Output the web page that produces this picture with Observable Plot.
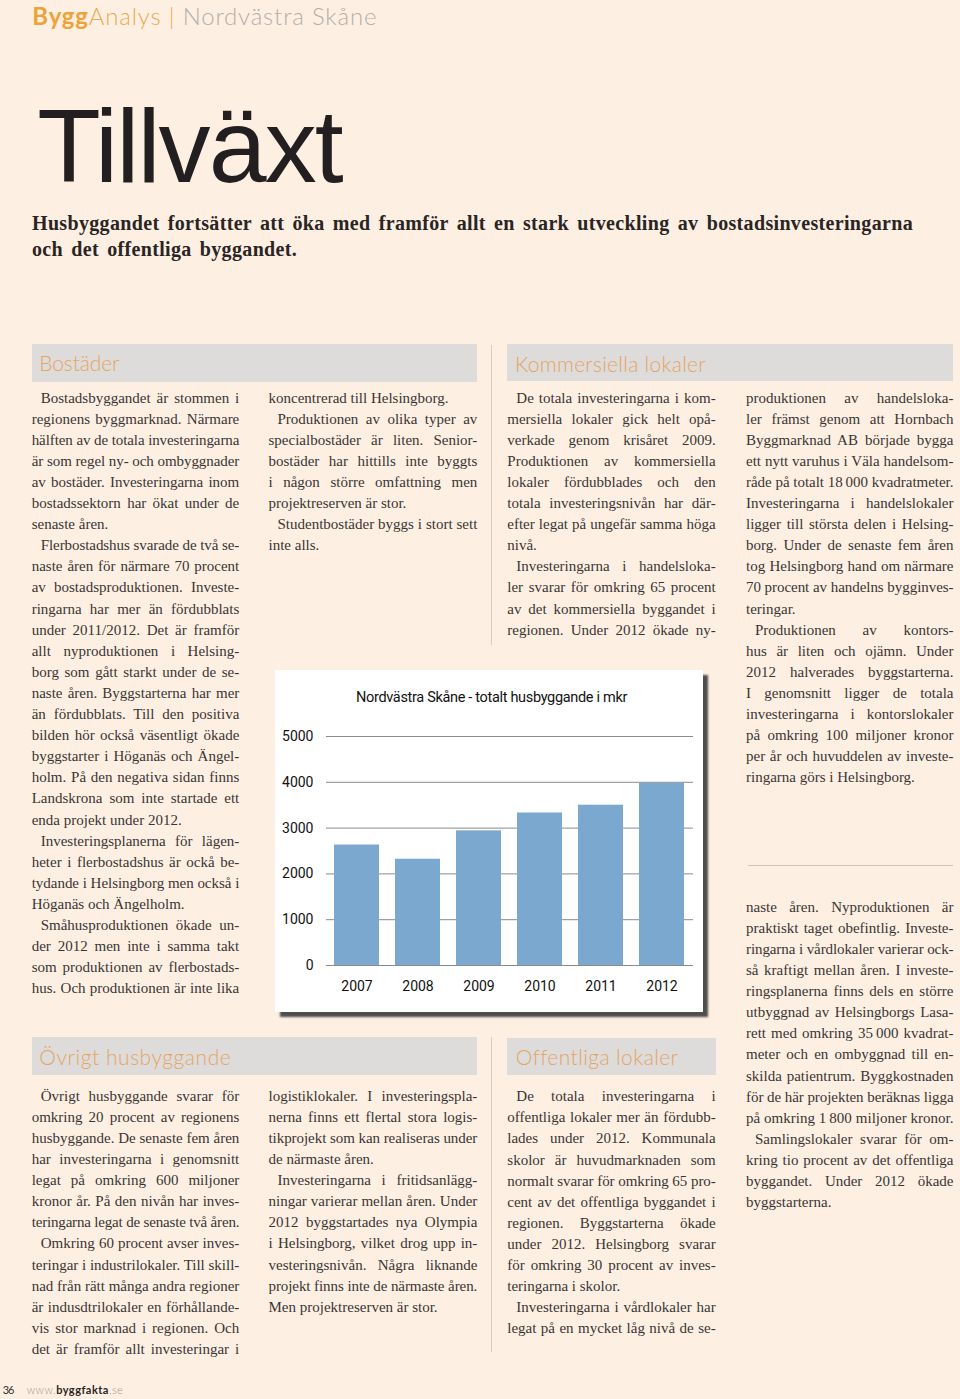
<!DOCTYPE html>
<html><head><meta charset="utf-8">
<script src="https://cdn.jsdelivr.net/npm/d3@7"></script>
<script src="https://cdn.jsdelivr.net/npm/@observablehq/plot@0.6"></script>
<style>
html,body{margin:0;padding:0;}
body{width:960px;height:1399px;background:#fdf0e3;position:relative;overflow:hidden;}
.abs{position:absolute;white-space:nowrap;}
.body{font-family:'Liberation Serif','Times New Roman',serif;font-size:15px;color:#3a3533;line-height:1;}
.head{font-family:Lato,sans-serif;font-weight:300;font-size:21px;color:#e6a463;line-height:1;}
.top{font-family:Lato,sans-serif;font-weight:300;font-size:24px;color:#b5aea8;line-height:1;}
.big{font-family:'Liberation Sans',Arial,sans-serif;font-size:104px;color:#231f20;line-height:1;}
.sub{font-family:'Liberation Serif','Times New Roman',serif;font-weight:bold;font-size:20px;color:#2a2523;line-height:1;}
.ctitle{font-family:Roboto,'Liberation Sans',sans-serif;font-size:14.5px;color:#111;line-height:1;}
.foot{font-family:Lato,sans-serif;font-size:11px;color:#333;line-height:1;}
</style></head><body>
<script>
// ---- chart data ----
const years = ["2007", "2008", "2009", "2010", "2011", "2012"];
const values = [2630, 2320, 2940, 3330, 3500, 3980];
const yTicks = [0, 1000, 2000, 3000, 4000, 5000];
const chartTitle = "Nordvästra Skåne - totalt husbyggande i mkr";

// ---- page text ----
const col1 = [
"\tBostadsbyggandet är stommen i",
"regionens byggmarknad. Närmare",
"hälften av de totala investeringarna",
"är som regel ny- och ombyggnader",
"av bostäder. Investeringarna inom",
"bostadssektorn har ökat under de",
"senaste åren.~",
"\tFlerbostadshus svarade de två se-",
"naste åren för närmare 70 procent",
"av bostadsproduktionen. Investe-",
"ringarna har mer än fördubblats",
"under 2011/2012. Det är framför",
"allt nyproduktionen i Helsing-",
"borg som gått starkt under de se-",
"naste åren. Byggstarterna har mer",
"än fördubblats. Till den positiva",
"bilden hör också väsentligt ökade",
"byggstarter i Höganäs och Ängel-",
"holm. På den negativa sidan finns",
"Landskrona som inte startade ett",
"enda projekt under 2012.~",
"\tInvesteringsplanerna för lägen-",
"heter i flerbostadshus är ockå be-",
"tydande i Helsingborg men också i",
"Höganäs och Ängelholm.~",
"\tSmåhusproduktionen ökade un-",
"der 2012 men inte i samma takt",
"som produktionen av flerbostads-",
"hus. Och produktionen är inte lika"
];
const col2 = [
"koncentrerad till Helsingborg.~",
"\tProduktionen av olika typer av",
"specialbostäder är liten. Senior-",
"bostäder har hittills inte byggts",
"i någon större omfattning men",
"projektreserven är stor.~",
"\tStudentbostäder byggs i stort sett",
"inte alls.~"
];
const col3 = [
"\tDe totala investeringarna i kom-",
"mersiella lokaler gick helt opå-",
"verkade genom krisåret 2009.",
"Produktionen av kommersiella",
"lokaler fördubblades och den",
"totala investeringsnivån har där-",
"efter legat på ungefär samma höga",
"nivå.~",
"\tInvesteringarna i handelsloka-",
"ler svarar för omkring 65 procent",
"av det kommersiella byggandet i",
"regionen. Under 2012 ökade ny-"
];
const col4 = [
"produktionen av handelsloka-",
"ler främst genom att Hornbach",
"Byggmarknad AB började bygga",
"ett nytt varuhus i Väla handelsom-",
"råde på totalt 18\u2009000 kvadratmeter.",
"Investeringarna i handelslokaler",
"ligger till största delen i Helsing-",
"borg. Under de senaste fem åren",
"tog Helsingborg hand om närmare",
"70 procent av handelns bygginves-",
"teringar.~",
"\tProduktionen av kontors-",
"hus är liten och ojämn. Under",
"2012 halverades byggstarterna.",
"I genomsnitt ligger de totala",
"investeringarna i kontorslokaler",
"på omkring 100 miljoner kronor",
"per år och huvuddelen av investe-",
"ringarna görs i Helsingborg.~"
];
const col4b = [
"naste åren. Nyproduktionen är",
"praktiskt taget obefintlig. Investe-",
"ringarna i vårdlokaler varierar ock-",
"så kraftigt mellan åren. I investe-",
"ringsplanerna finns dels en större",
"utbyggnad av Helsingborgs Lasa-",
"rett med omkring 35\u2009000 kvadrat-",
"meter och en ombyggnad till en-",
"skilda patientrum. Byggkostnaden",
"för de här projekten beräknas ligga",
"på omkring 1\u2009800 miljoner kronor.",
"\tSamlingslokaler svarar för om-",
"kring tio procent av det offentliga",
"byggandet. Under 2012 ökade",
"byggstarterna.~"
];
const col5 = [
"\tÖvrigt husbyggande svarar för",
"omkring 20 procent av regionens",
"husbyggande. De senaste fem åren",
"har investeringarna i genomsnitt",
"legat på omkring 600 miljoner",
"kronor år. På den nivån har inves-",
"teringarna legat de senaste två åren.",
"\tOmkring 60 procent avser inves-",
"teringar i industrilokaler. Till skill-",
"nad från rätt många andra regioner",
"är indusdtrilokaler en förhållande-",
"vis stor marknad i regionen. Och",
"det är framför allt investeringar i"
];
const col6 = [
"logistiklokaler. I investeringspla-",
"nerna finns ett flertal stora logis-",
"tikprojekt som kan realiseras under",
"de närmaste åren.~",
"\tInvesteringarna i fritidsanlägg-",
"ningar varierar mellan åren. Under",
"2012 byggstartades nya Olympia",
"i Helsingborg, vilket drog upp in-",
"vesteringsnivån. Några liknande",
"projekt finns inte de närmaste åren.",
"Men projektreserven är stor.~"
];
const col7 = [
"\tDe totala investeringarna i",
"offentliga lokaler mer än fördubb-",
"lades under 2012. Kommunala",
"skolor är huvudmarknaden som",
"normalt svarar för omkring 65 pro-",
"cent av det offentliga byggandet i",
"regionen. Byggstarterna ökade",
"under 2012. Helsingborg svarar",
"för omkring 30 procent av inves-",
"teringarna i skolor.~",
"\tInvesteringarna i vårdlokaler har",
"legat på en mycket låg nivå de se-"
];

// ---- helpers ----
function line(str, x, baseline, cls, opts = {}) {
  const d = document.createElement('div');
  d.className = 'abs ' + cls;
  d.style.left = x + 'px';
  d.style.top = '0px';
  if (opts.html) d.innerHTML = opts.html; else d.textContent = str;
  document.body.appendChild(d);
  const p = document.createElement('span');
  p.style.cssText = 'display:inline-block;width:0;height:0;';
  d.appendChild(p);
  const off = p.getBoundingClientRect().top - d.getBoundingClientRect().top;
  p.remove();
  d.style.top = (baseline - off) + 'px';
  if (opts.width != null) {
    const w = d.getBoundingClientRect().width;
    const slack = opts.width - w;
    const txt = d.textContent;
    const spaces = (txt.match(/ /g) || []).length;
    if (opts.split && spaces > 0) {
      d.style.letterSpacing = (slack * opts.split / txt.length) + 'px';
      d.style.wordSpacing = (slack * (1 - opts.split) / spaces) + 'px';
    } else if (opts.justify && slack > 0 && spaces > 0) d.style.wordSpacing = (slack / spaces) + 'px';
    else if (slack < 0 || opts.fit) d.style.letterSpacing = (slack / txt.length) + 'px';
  }
  if (opts.ls != null) d.style.letterSpacing = opts.ls + 'px';
  if (opts.ws != null) d.style.wordSpacing = opts.ws + 'px';
  return d;
}
function column(lines, x, b0, width, lh = 21.1) {
  lines.forEach((raw, i) => {
    let s = raw, indent = 0, justify = true;
    if (s.startsWith('\t')) { s = s.slice(1); indent = 9; }
    if (s.endsWith('~')) { s = s.slice(0, -1); justify = false; }
    line(s, x + indent, b0 + i * lh, 'body', {width: width - indent, justify});
  });
}
function rect(x, y, w, h, color) {
  const d = document.createElement('div');
  d.style.cssText = `position:absolute;left:${x}px;top:${y}px;width:${w}px;height:${h}px;background:${color};`;
  document.body.appendChild(d);
  return d;
}

// ---- header ----
line('', 32.3, 25, 'top', {html: '<span style="font-weight:700;color:#eea23a">Bygg</span><span style="color:#eea84e">Analys |</span> Nordvästra Skåne', width: 345, fit: true});
line('Tillväxt', 37.3, 181.7, 'big', {width: 304.4, fit: true});
const s1 = line('Husbyggandet fortsätter att öka med framför allt en stark utveckling av bostadsinvesteringarna', 32, 229.7, 'sub', {width: 881, split: 0.5});
line('och det offentliga byggandet.', 32, 255.7, 'sub', {ls: parseFloat(s1.style.letterSpacing) || 0, ws: parseFloat(s1.style.wordSpacing) || 0});

// ---- section bands ----
rect(31.7, 344, 445.6, 37.5, '#dddcdb');
rect(507.3, 344, 446, 37, '#dddcdb');
rect(31.7, 1037.3, 445.6, 37.7, '#dddcdb');
rect(507.3, 1037.7, 208.4, 37.3, '#dddcdb');
line('Bostäder', 39.3, 371, 'head', {width: 80, fit: true});
line('Kommersiella lokaler', 515, 371.5, 'head', {width: 191, fit: true});
line('Övrigt husbyggande', 39.3, 1065, 'head', {width: 192, fit: true});
line('Offentliga lokaler', 515.7, 1064.5, 'head', {width: 162, fit: true});

// separators
rect(490.5, 345, 1.5, 300, '#d6cdc3');
rect(490.8, 1037, 1.5, 315, '#d6cdc3');
rect(748, 864.5, 205, 1.5, '#cbc4bc');

// ---- body text ----
column(col1, 31.7, 402.5, 207.6);
column(col2, 268.5, 402.5, 208.8);
column(col3, 507.3, 402.5, 208.4);
column(col4, 746, 402.5, 207.5);
column(col4b, 746, 911.7, 207.5);
column(col5, 31.7, 1100.7, 207.6);
column(col6, 268.5, 1100.7, 208.8);
column(col7, 507.3, 1101.2, 208.4);

// ---- footer ----
line('36', 2.7, 1394, 'foot', {width: 10.6, fit: true});
line('', 26.7, 1394, 'foot', {html: '<span style="color:#9a9590;font-weight:300">www.</span><span style="font-weight:700;color:#2a2523">byggfakta</span><span style="color:#9a9590;font-weight:300">.se</span>', width: 96.6, fit: true});

// ---- chart ----
const box = document.createElement('div');
box.style.cssText = 'position:absolute;left:275px;top:670px;width:428px;height:342px;background:#fff;box-shadow:5px 5px 2px #4e4e4e;';
document.body.appendChild(box);
const data = years.map((y, i) => ({year: y, value: values[i]}));
const chart = Plot.plot({
  width: 428,
  height: 300,
  marginLeft: 51,
  marginRight: 10,
  marginTop: 26,
  marginBottom: 45,
  style: {background: "transparent", fontFamily: "Roboto,'Liberation Sans',sans-serif", fontSize: "14px", color: "#111", overflow: "visible"},
  x: {domain: years, paddingInner: 0.257, paddingOuter: 0.1285, label: null, tickSize: 0, tickPadding: 16},
  y: {domain: [0, 5000], ticks: yTicks, tickFormat: d => String(d), label: null, tickSize: 0, tickPadding: 13},
  marks: [
    Plot.ruleY(yTicks, {stroke: "#8a8a8a", strokeWidth: 1}),
    Plot.barY(data, {x: "year", y: "value", fill: "#7aa8cf"}),
    Plot.ruleY([0], {stroke: "#8a8a8a", strokeWidth: 1})
  ]
});
chart.style.position = 'absolute';
chart.style.left = '0px';
chart.style.top = '40px';
box.appendChild(chart);
line(chartTitle, 356, 701.7, 'ctitle', {width: 271, fit: true});
</script>
</body></html>
